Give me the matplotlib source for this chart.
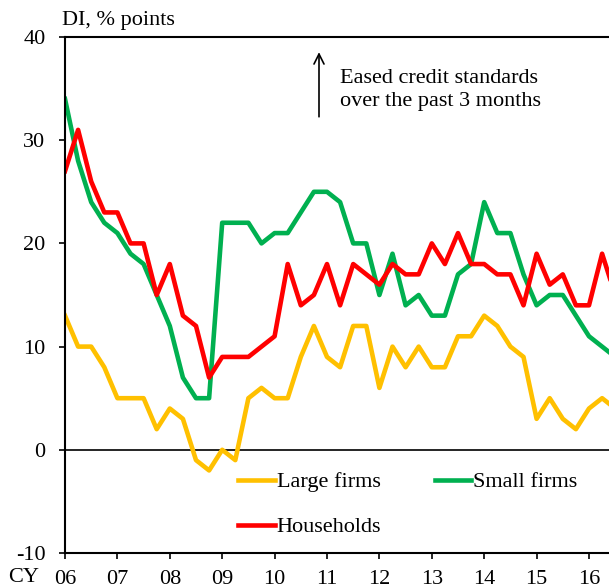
import numpy as np
import matplotlib
matplotlib.use("Agg")
import matplotlib.pyplot as plt

plt.rcParams['font.family'] = ['Liberation Serif', 'DejaVu Serif']
plt.rcParams['axes.unicode_minus'] = False

# quarterly, starting CY2006 Q1
large_firms = [13, 10, 10, 8, 5, 5, 5, 2, 4, 3, -1, -2, 0, -1, 5, 6, 5, 5, 9, 12,
               9, 8, 12, 12, 6, 10, 8, 10, 8, 8, 11, 11, 13, 12, 10, 9, 3, 5, 3, 2,
               4, 5, 4]
small_firms = [34, 28, 24, 22, 21, 19, 18, 15, 12, 7, 5, 5, 22, 22, 22, 20, 21, 21, 23, 25,
               25, 24, 20, 20, 15, 19, 14, 15, 13, 13, 17, 18, 24, 21, 21, 17, 14, 15, 15, 13,
               11, 10, 9]
households = [27, 31, 26, 23, 23, 20, 20, 15, 18, 13, 12, 7, 9, 9, 9, 10, 11, 18, 14, 15,
              18, 14, 18, 17, 16, 18, 17, 17, 20, 18, 21, 18, 18, 17, 17, 14, 19, 16, 17, 14,
              14, 19, 15]
years = ['06', '07', '08', '09', '10', '11', '12', '13', '14', '15', '16']

x = 2006 + 0.25 * np.arange(len(large_firms))

fig = plt.figure(figsize=(6.09, 5.88), dpi=100)
ax = fig.add_axes([65/609, 1 - 553/588, 1 - 65/609, (553 - 37)/588])

l1, = ax.plot(x, large_firms, color='#FFC000', lw=3.3, label='Large firms')
l2, = ax.plot(x, small_firms, color='#00B050', lw=3.3, label='Small firms')
l3, = ax.plot(x, households, color='#FF0000', lw=3.3, label='Households')
ax.axhline(0, color='black', lw=1.2, zorder=0)

ax.set_xlim(2006, 2006 + (609 - 65) / 52.4)
ax.set_ylim(-10, 40)
ax.set_yticks(range(-10, 41, 10))
ax.set_xticks(range(2006, 2017))
ax.set_xticklabels(years)
ax.tick_params(axis='both', direction='out', length=4, width=1.2, labelsize=16, colors='black')
ax.tick_params(axis='x', pad=8.5)
ax.tick_params(axis='y', pad=10)

for s in ['left', 'top', 'bottom']:
    ax.spines[s].set_linewidth(1.5)
ax.spines['right'].set_visible(False)

fig.text(62/609, 1 - 20/588, 'DI, % points', fontsize=16, va='center', ha='left')
fig.text(8/609, 1 - 578/588, 'CY', fontsize=16, va='center', ha='left')

ax_x = 2006 + (319 - 65) / 52.4
ax.annotate('', xy=(ax_x, 38.8), xytext=(ax_x, 32.0),
            arrowprops=dict(arrowstyle='->', color='black', lw=1.2, mutation_scale=18))
ax.text(2006 + (340 - 65) / 52.4, 34.85, 'Eased credit standards\nover the past 3 months',
        fontsize=16, va='center', ha='left', linespacing=1.3)

ax.legend([l1, l3, l2], ['Large firms', 'Households', 'Small firms'],
          loc='upper left', bbox_to_anchor=(0.281, 0.196), ncol=2, frameon=False,
          fontsize=16, handlelength=1.65, handletextpad=0.1, columnspacing=2.4,
          labelspacing=1.1)

fig.savefig('out.png', dpi=100)
